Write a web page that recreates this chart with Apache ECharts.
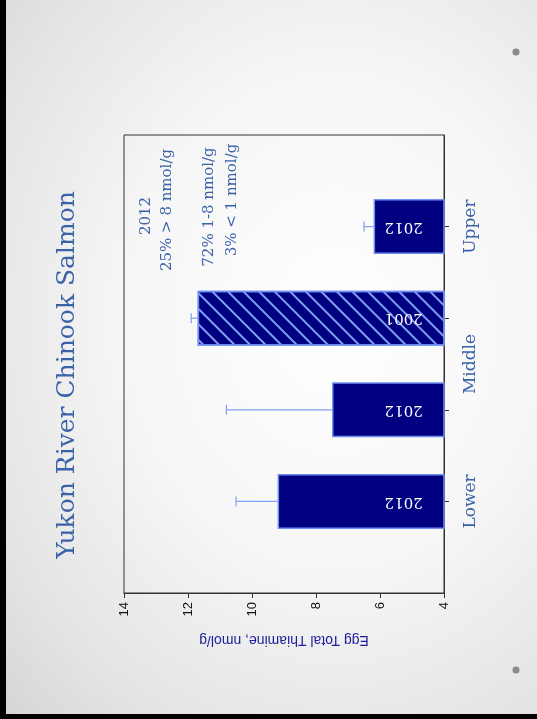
<!DOCTYPE html>
<html>
<head>
<meta charset="utf-8">
<script src="https://cdn.jsdelivr.net/npm/echarts@6/dist/echarts.min.js"></script>
<style>
  html, body { margin: 0; padding: 0; }
  #slide {
    position: relative;
    width: 537px; height: 719px;
    box-sizing: border-box;
    border-left: 6px solid #000;
    border-bottom: 5px solid #000;
    background: radial-gradient(ellipse at 62% 45%, #ffffff 0%, #f6f6f6 45%, #e4e4e4 80%, #d6d6d6 100%);
  }
  #main { position: absolute; left: -6px; top: 0; width: 537px; height: 719px; }
</style>
</head>
<body>
<div id="slide"><div id="main"></div></div>
<script>
  // 数据：横向（旋转后的幻灯片）
  var categories = ['start', 'Lower', 'Middle-2012', 'Middle-2001', 'Upper', 'end'];
  var thiamine = ['-', 9.2, 7.5, 11.7, 6.2, '-'];
  var errorPlus = ['-', 1.3, 3.3, 0.2, 0.3, '-'];
  var years = ['', '2012', '2012', '2001', '2012', ''];
  var regionLabels = { 2: 'Lower', 5: 'Middle', 8: 'Upper' };
  var noteLines = ['2012', '25% > 8 nmol/g', '72% 1-8 nmol/g', '3% < 1 nmol/g'];

  var blueText = '#3a62a8';
  var serif = '"DejaVu Serif", serif';

  var barData = thiamine.map(function (v, i) {
    if (years[i] === '2001') {
      return {
        value: v,
        itemStyle: {
          decal: {
            symbol: 'rect',
            symbolSize: 1,
            dashArrayX: [1, 0],
            dashArrayY: [1.5, 8.5],
            rotation: Math.PI / 4,
            color: '#7f9ff5'
          }
        }
      };
    }
    return v;
  });

  var errData = [];
  for (var i = 0; i < thiamine.length; i++) {
    if (thiamine[i] !== '-') errData.push([thiamine[i], i, errorPlus[i]]);
  }

  var myChart = echarts.init(document.getElementById('main'));

  var option = {
    animation: false,
    grid: { left: 124, right: 93, top: 135, bottom: 126, show: true, borderColor: '#333', borderWidth: 1 },
    xAxis: {
      type: 'value',
      inverse: true,
      min: 4,
      max: 14,
      interval: 2,
      splitLine: { show: false },
      axisLine: { show: true, lineStyle: { color: '#333' } },
      axisTick: { show: true, length: 5, lineStyle: { color: '#333' } },
      axisLabel: { rotate: 90, margin: 9, color: '#111', fontFamily: '"Liberation Sans", Arial', fontSize: 13 },
      name: 'Egg Total Thiamine, nmol/g',
      nameLocation: 'middle',
      nameGap: 40,
      nameRotate: 180,
      nameTextStyle: { color: '#1c1c9c', fontFamily: '"Liberation Sans", Arial', fontSize: 14 }
    },
    yAxis: [
      {
        type: 'category',
        position: 'right',
        data: categories,
        boundaryGap: false,
        axisLine: { show: true, lineStyle: { color: '#333' } },
        axisTick: {
          show: true, length: 5, lineStyle: { color: '#333' },
          interval: function (idx) { return idx > 0 && idx < categories.length - 1; }
        },
        axisLabel: { show: false },
        splitLine: { show: false }
      },
      {
        type: 'value',
        position: 'right',
        min: 0,
        max: 10,
        interval: 1,
        axisLine: { show: false },
        axisTick: { show: false },
        splitLine: { show: false },
        axisLabel: {
          rotate: 90,
          margin: 18,
          color: blueText,
          fontFamily: serif,
          fontSize: 17,
          formatter: function (v) { return regionLabels[v] || ''; }
        }
      }
    ],
    series: [
      {
        type: 'bar',
        yAxisIndex: 0,
        barWidth: 55,
        data: barData,
        itemStyle: { color: '#000080', borderColor: '#6f90f0', borderWidth: 1.5 },
        label: {
          show: true,
          position: 'insideRight',
          distance: 22,
          rotate: 180,
          align: 'left',
          verticalAlign: 'middle',
          color: '#ffffff',
          fontFamily: serif,
          fontSize: 15,
          formatter: function (p) { return years[p.dataIndex]; }
        }
      },
      {
        type: 'custom',
        yAxisIndex: 0,
        data: errData,
        encode: { x: 0, y: 1 },
        z: 1,
        renderItem: function (params, api) {
          var v = api.value(0), c = api.value(1), e = api.value(2);
          var p0 = api.coord([v, c]);
          var p1 = api.coord([v + e, c]);
          var st = { stroke: '#7f9ff5', lineWidth: 1.2 };
          return {
            type: 'group',
            children: [
              { type: 'line', shape: { x1: p0[0], y1: p0[1], x2: p1[0], y2: p1[1] }, style: st },
              { type: 'line', shape: { x1: p1[0], y1: p1[1] - 5, x2: p1[0], y2: p1[1] + 5 }, style: st }
            ]
          };
        }
      }
    ],
    graphic: [
      {
        type: 'text', x: 67, y: 375, rotation: Math.PI / 2,
        style: { text: 'Yukon River Chinook Salmon', fill: blueText, font: '25px ' + serif, textAlign: 'center', textVerticalAlign: 'middle' }
      },
      { type: 'text', x: 146, y: 216, rotation: Math.PI / 2, style: { text: noteLines[0], fill: blueText, font: '15px ' + serif, textAlign: 'center', textVerticalAlign: 'middle' } },
      { type: 'text', x: 167, y: 210, rotation: Math.PI / 2, style: { text: noteLines[1], fill: blueText, font: '15px ' + serif, textAlign: 'center', textVerticalAlign: 'middle' } },
      { type: 'text', x: 209, y: 207, rotation: Math.PI / 2, style: { text: noteLines[2], fill: blueText, font: '15px ' + serif, textAlign: 'center', textVerticalAlign: 'middle' } },
      { type: 'text', x: 232, y: 200, rotation: Math.PI / 2, style: { text: noteLines[3], fill: blueText, font: '15px ' + serif, textAlign: 'center', textVerticalAlign: 'middle' } },
      { type: 'circle', shape: { cx: 516, cy: 52, r: 3.5 }, style: { fill: '#8a8a8a' } },
      { type: 'circle', shape: { cx: 516, cy: 670, r: 3.5 }, style: { fill: '#8a8a8a' } }
    ]
  };

  myChart.setOption(option);
</script>
</body>
</html>
